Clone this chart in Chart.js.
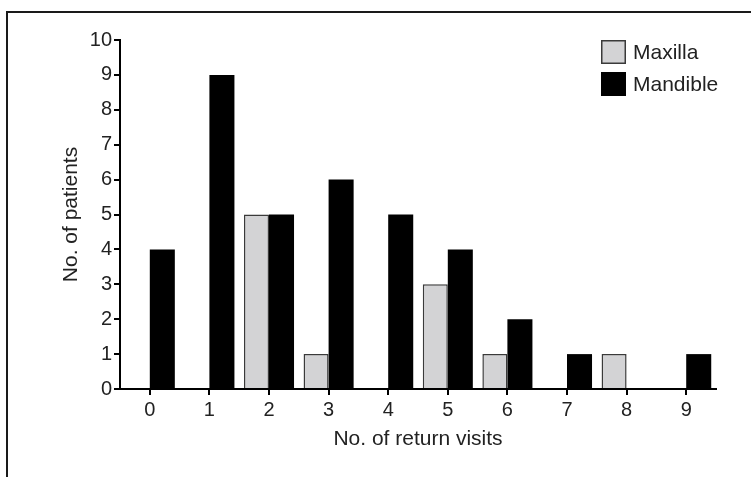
<!DOCTYPE html>
<html>
<head>
<meta charset="utf-8">
<script src="https://cdn.jsdelivr.net/npm/chart.js@4"></script>
<style>
  html, body { margin: 0; padding: 0; background: #fff; }
  #wrap { position: relative; width: 751px; height: 477px; overflow: hidden; }
  #frame { position: absolute; left: 6px; top: 11px; width: 760px; height: 480px;
           border-left: 2px solid #1a1a1a; border-top: 2px solid #1a1a1a; }
  canvas { position: absolute; left: 0; top: 0; }
</style>
</head>
<body>
<div id="wrap">
  <div id="frame"></div>
  <canvas id="c" width="751" height="477"></canvas>
</div>
<script>
const categories = ['0', '1', '2', '3', '4', '5', '6', '7', '8', '9'];
const maxilla  = [0, 0, 5, 1, 0, 3, 1, 0, 1, 0];
const mandible = [4, 9, 5, 6, 5, 4, 2, 1, 0, 1];
const seriesNames = ['Maxilla', 'Mandible'];
const yTickValues = [0, 1, 2, 3, 4, 5, 6, 7, 8, 9, 10];
const xTitle = 'No. of return visits';
const yTitle = 'No. of patients';

const FONT = "'Liberation Sans', Arial, Helvetica, sans-serif";
const TEXT = '#222';

const legendPlugin = {
  id: 'boxLegend',
  afterDraw(chart) {
    const ctx = chart.ctx;
    const x0 = 601, y0 = 40, bw = 25, bh = 24, gap = 32;
    ctx.save();
    chart.data.datasets.forEach((ds, i) => {
      const y = y0 + i * gap;
      ctx.fillStyle = ds.backgroundColor;
      ctx.fillRect(x0, y, bw, bh);
      ctx.lineWidth = 1.5;
      ctx.strokeStyle = ds.borderColor;
      ctx.strokeRect(x0 + 0.75, y + 0.75, bw - 1.5, bh - 1.5);
      ctx.fillStyle = TEXT;
      ctx.font = '21px ' + FONT;
      ctx.textBaseline = 'middle';
      ctx.textAlign = 'left';
      ctx.fillText(ds.label, x0 + bw + 7, y + bh / 2 + 1);
    });
    ctx.restore();
  }
};

new Chart(document.getElementById('c'), {
  type: 'bar',
  data: {
    labels: categories,
    datasets: [
      { label: seriesNames[0], data: maxilla, backgroundColor: '#d3d3d5',
        borderColor: '#3a3a3a', borderWidth: 1.5, borderSkipped: 'bottom' },
      { label: seriesNames[1], data: mandible, backgroundColor: '#000000',
        borderColor: '#000000', borderWidth: 0 }
    ]
  },
  options: {
    responsive: false,
    animation: false,
    devicePixelRatio: 1,
    layout: { padding: { left: 0, top: 40, right: 35, bottom: 0 } },
    datasets: { bar: { categoryPercentage: 0.84, barPercentage: 1.0 } },
    plugins: { legend: { display: false }, tooltip: { enabled: false } },
    scales: {
      x: {
        offset: true,
        grid: { display: true, offset: false, drawOnChartArea: false, drawTicks: true,
                tickLength: 6, color: '#000', lineWidth: 2 },
        border: { display: true, color: '#000', width: 2 },
        ticks: { color: TEXT, font: { family: FONT, size: 20 }, padding: 3, maxRotation: 0 },
        title: { display: true, text: xTitle, color: TEXT,
                 font: { family: FONT, size: 21 }, padding: { top: 0, bottom: 25 } },
        afterFit(s) { s.height = 88; }
      },
      y: {
        min: 0, max: 10,
        afterBuildTicks(s) { s.ticks = yTickValues.map(v => ({ value: v })); },
        grid: { display: true, drawOnChartArea: false, drawTicks: true,
                tickLength: 6, color: '#000', lineWidth: 2 },
        border: { display: true, color: '#000', width: 2 },
        ticks: { color: TEXT, font: { family: FONT, size: 20 }, padding: 2 },
        title: { display: true, text: yTitle, color: TEXT,
                 font: { family: FONT, size: 21 }, padding: { top: 59, bottom: 0 } },
        afterFit(s) { s.width = 120; }
      }
    }
  },
  plugins: [legendPlugin]
});
</script>
</body>
</html>
